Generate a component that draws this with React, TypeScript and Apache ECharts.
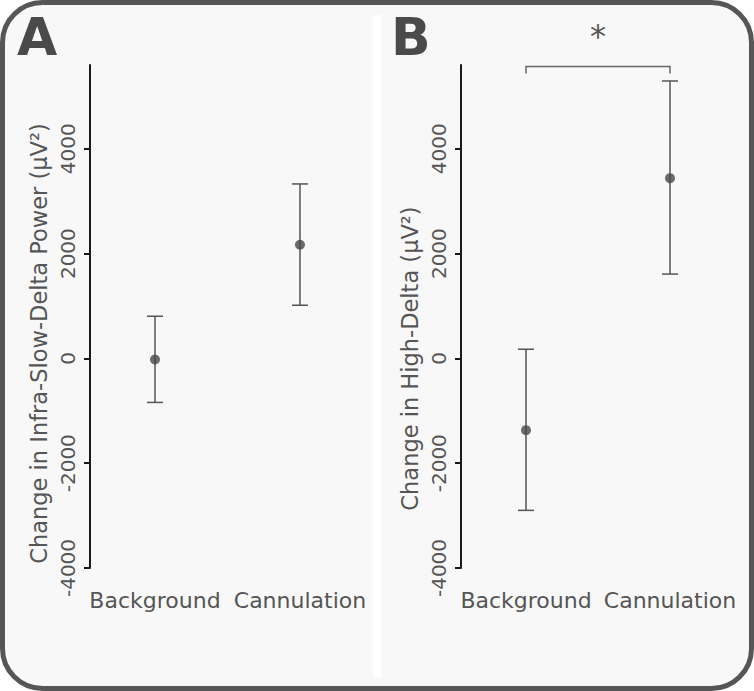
import React, { useEffect, useRef } from "react";
import * as echarts from "echarts";

const categories = ["Background", "Cannulation"];
const categoryX = [1, 2];
const yTicks = [-4000, -2000, 0, 2000, 4000];

const meanA = [-20, 2170];
const lowA = [-840, 1015];
const highA = [805, 3330];

const meanB = [-1370, 3440];
const lowB = [-2900, 1610];
const highB = [175, 5295];

const bracketX = [1, 2];
const bracketTop = 5570;
const bracketLeg = 5440;
const starY = 6150;
const starLabel = "*";

const nameA = "Change in Infra-Slow-Delta Power (µV²)";
const nameB = "Change in High-Delta (µV²)";

const FONT = "DejaVu Sans";
const TXT = "#555555";

export default function App() {
  const ref = useRef<HTMLDivElement>(null);
  useEffect(() => {
    if (!ref.current) return;
    const chart = echarts.init(ref.current, null, { renderer: "svg" });

    const errData = (lo: number[], hi: number[]) =>
      categoryX.map((x, i) => [x, lo[i], hi[i]]);
    const ptData = (m: number[]) => categoryX.map((x, i) => [x, m[i]]);

    const errRender = (params: any, api: any) => {
      const x = api.value(0);
      const pHi = api.coord([x, api.value(2)]);
      const pLo = api.coord([x, api.value(1)]);
      const hw = 8;
      const st = { stroke: "#555", lineWidth: 1.5 };
      return {
        type: "group",
        children: [
          { type: "line", shape: { x1: pHi[0], y1: pHi[1], x2: pLo[0], y2: pLo[1] }, style: st },
          { type: "line", shape: { x1: pHi[0] - hw, y1: pHi[1], x2: pHi[0] + hw, y2: pHi[1] }, style: st },
          { type: "line", shape: { x1: pLo[0] - hw, y1: pLo[1], x2: pLo[0] + hw, y2: pLo[1] }, style: st },
        ],
      };
    };

    const xAxisCfg = (idx: number, min: number, max: number) => ({
      type: "value",
      gridIndex: idx,
      min,
      max,
      axisLine: { show: false },
      axisTick: { show: false },
      splitLine: { show: false },
      axisLabel: {
        customValues: categoryX,
        formatter: (v: number) => categories[Math.round(v) - 1] ?? "",
        fontFamily: FONT,
        fontSize: 22,
        color: TXT,
        margin: 21,
      },
    });

    const yAxisCfg = (idx: number, name: string, shift: number) => ({
      type: "value",
      gridIndex: idx,
      min: -4000,
      max: 5600,
      name,
      nameLocation: "middle",
      nameGap: 40,
      nameTextStyle: {
        fontFamily: FONT,
        fontSize: 22.5,
        color: TXT,
        padding: [0, shift, 0, 0],
      },
      axisLine: { show: true, lineStyle: { color: "#1a1a1a", width: 2 } },
      axisTick: { show: true, customValues: yTicks, length: 6, lineStyle: { color: "#1a1a1a", width: 2 } },
      splitLine: { show: false },
      axisLabel: {
        customValues: yTicks,
        rotate: 90,
        margin: 12,
        formatter: (v: number) => String(v),
        fontFamily: FONT,
        fontSize: 20,
        color: TXT,
      },
    });

    chart.setOption({
      animation: false,
      backgroundColor: "transparent",
      graphic: [
        {
          type: "rect",
          z: -10,
          shape: { x: 2.5, y: 2.5, width: 749, height: 686, r: 40 },
          style: { fill: "#f8f8f8", stroke: "#565656", lineWidth: 5 },
        },
        {
          type: "rect",
          z: -9,
          shape: { x: 373, y: 15, width: 8, height: 662 },
          style: { fill: "#ffffff" },
        },
        {
          type: "text",
          x: 17,
          y: 11,
          style: { text: "A", fontFamily: FONT, fontWeight: "bold", fontSize: 52, fill: "#4a4a4a" },
        },
        {
          type: "text",
          x: 391,
          y: 11,
          style: { text: "B", fontFamily: FONT, fontWeight: "bold", fontSize: 52, fill: "#4a4a4a" },
        },
      ],
      grid: [
        { left: 90, top: 65, width: 280, height: 503 },
        { left: 461, top: 65, width: 280, height: 503 },
      ],
      xAxis: [xAxisCfg(0, 0.5517, 2.483), xAxisCfg(1, 0.5486, 2.493)],
      yAxis: [yAxisCfg(0, nameA, 54), yAxisCfg(1, nameB, 84)],
      series: [
        {
          type: "custom",
          xAxisIndex: 0,
          yAxisIndex: 0,
          renderItem: errRender,
          encode: { x: 0, y: [1, 2] },
          data: errData(lowA, highA),
          silent: true,
        },
        {
          type: "scatter",
          xAxisIndex: 0,
          yAxisIndex: 0,
          symbolSize: 10,
          itemStyle: { color: "#474747" },
          data: ptData(meanA),
          z: 3,
        },
        {
          type: "custom",
          xAxisIndex: 1,
          yAxisIndex: 1,
          renderItem: errRender,
          encode: { x: 0, y: [1, 2] },
          data: errData(lowB, highB),
          silent: true,
        },
        {
          type: "scatter",
          xAxisIndex: 1,
          yAxisIndex: 1,
          symbolSize: 10,
          itemStyle: { color: "#474747" },
          data: ptData(meanB),
          z: 3,
        },
        {
          type: "custom",
          xAxisIndex: 1,
          yAxisIndex: 1,
          clip: false,
          silent: true,
          encode: { x: [0, 1], y: [2, 3] },
          data: [[bracketX[0], bracketX[1], bracketTop, bracketLeg]],
          renderItem: (params: any, api: any) => {
            const x1 = api.value(0);
            const x2 = api.value(1);
            const yt = api.value(2);
            const yl = api.value(3);
            const a = api.coord([x1, yl]);
            const b = api.coord([x1, yt]);
            const c = api.coord([x2, yt]);
            const d = api.coord([x2, yl]);
            const s = api.coord([(x1 + x2) / 2, starY]);
            return {
              type: "group",
              children: [
                {
                  type: "polyline",
                  shape: { points: [a, b, c, d] },
                  style: { stroke: "#666", lineWidth: 1.5, fill: "none" },
                },
                {
                  type: "text",
                  x: s[0],
                  y: s[1],
                  style: {
                    text: starLabel,
                    fontFamily: FONT,
                    fontSize: 32,
                    fill: TXT,
                    align: "center",
                    verticalAlign: "middle",
                  },
                },
              ],
            };
          },
        },
      ],
    });
    return () => chart.dispose();
  }, []);
  return (
    <div
      ref={ref}
      style={{ position: "fixed", left: 0, top: 0, width: 754, height: 691, background: "#ffffff" }}
    />
  );
}
